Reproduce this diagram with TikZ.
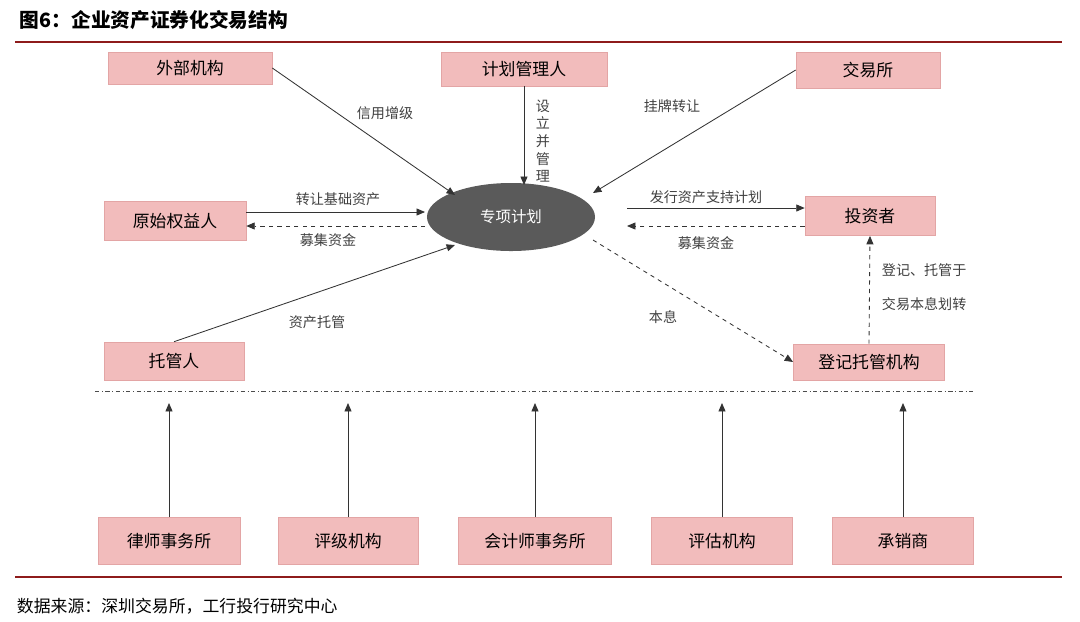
\documentclass[tikz,border=0pt]{standalone}
\usepackage{fontspec}
\setmainfont{Noto Sans CJK SC}
\usetikzlibrary{arrows.meta,shapes.geometric}
\definecolor{pinkbox}{HTML}{F2BCBC}
\definecolor{pinkedge}{HTML}{E3A5A5}
\definecolor{darkred}{HTML}{8E1B1B}
\definecolor{ellg}{HTML}{5A5A5A}
\begin{document}
\begin{tikzpicture}[x=0.025cm,y=-0.025cm,
  bx/.style={draw=pinkedge,fill=pinkbox,inner sep=0pt,font=\fontsize{12}{14}\selectfont},
  arr/.style={-{Triangle[length=6pt,width=5pt]},line width=0.6pt,color=black!80},
  darr/.style={arr,dashed},
  lab/.style={font=\fontsize{10}{12}\selectfont,text=black!75}]
\useasboundingbox (0,0) rectangle (1080,621);
\node[anchor=west,font=\bfseries\fontsize{14}{16}\selectfont] (title) at (15,20) {图6：企业资产证券化交易结构};
\draw[darkred,line width=1.2pt] (15,42) -- (1062,42);
\node[bx,minimum width=4.1cm,minimum height=0.8cm] (wb) at (190,68) {外部机构};
\node[bx,minimum width=4.15cm,minimum height=0.85cm] (jh) at (524,69) {计划管理人};
\node[bx,minimum width=3.6cm,minimum height=0.9cm] (jy) at (868,70) {交易所};
\node[bx,minimum width=3.55cm,minimum height=0.98cm] (ys) at (175,221) {原始权益人};
\node[bx,minimum width=3.25cm,minimum height=0.98cm] (tz) at (870,216) {投资者};
\node[bx,minimum width=3.5cm,minimum height=0.95cm] (tg) at (174,361) {托管人};
\node[bx,minimum width=3.78cm,minimum height=0.9cm] (dj) at (869,362) {登记托管机构};
\node[ellipse,fill=ellg,minimum width=4.2cm,minimum height=1.7cm,inner sep=0pt,text=white,font=\fontsize{11}{13}\selectfont] (zx) at (511,217) {专项计划};
\draw[dash dot,line width=0.6pt,black!70] (95,391) -- (975,391);
\foreach \n/\x/\w/\t in {a/169/3.55/律师事务所,b/348/3.5/评级机构,c/535/3.82/会计师事务所,d/722/3.52/评估机构,e/903/3.52/承销商}{
  \node[bx,minimum width=\w cm,minimum height=1.18cm] (\n) at (\x,541) {\t};
  \coordinate (\n t) at (\x,403);
  \draw[arr] (\n.north) -- (\n t);
}
\draw[arr] (wb.east) -- (455,195);
\node[lab] (l1) at (385,113) {信用增级};
\draw[arr] (jh.south) -- (524,185);
\node[lab,align=center,font=\fontsize{10}{12.5}\selectfont] (l2) at (543,141) {设\\立\\并\\管\\理};
\draw[arr] (jy.west) -- (593,193);
\node[lab] (l3) at (672,106) {挂牌转让};
\coordinate (c1) at (425,212); \coordinate (c2) at (425,226);
\draw[arr] (ys.east|-c1) -- (c1);
\draw[darr] (c2) -- (ys.east|-c2);
\node[lab] (l4) at (338,199) {转让基础资产};
\node[lab] (l5) at (328,240) {募集资金};
\coordinate (c3) at (627,208); \coordinate (c4) at (627,226);
\draw[arr] (c3) -- (tz.west|-c3);
\draw[darr] (tz.west|-c4) -- (c4);
\node[lab] (l6) at (706,197) {发行资产支持计划};
\node[lab] (l7) at (706,243) {募集资金};
\draw[arr] (tg.north) -- (455,245);
\node[lab] (l8) at (317,322) {资产托管};
\draw[darr] (593,240) -- (dj.west);
\node[lab] (l9) at (663,317) {本息};
\draw[darr] (dj.north) -- (tz.south);
\node[lab,anchor=west] (l10) at (877,270) {登记、托管于};
\node[lab,anchor=west] (l11) at (877,304) {交易本息划转};
\draw[darkred,line width=1pt] (15,577) -- (1062,577);
\node[anchor=west,font=\fontsize{12}{14}\selectfont] (src) at (12,606) {数据来源：深圳交易所，工行投行研究中心};
\end{tikzpicture}
\end{document}
